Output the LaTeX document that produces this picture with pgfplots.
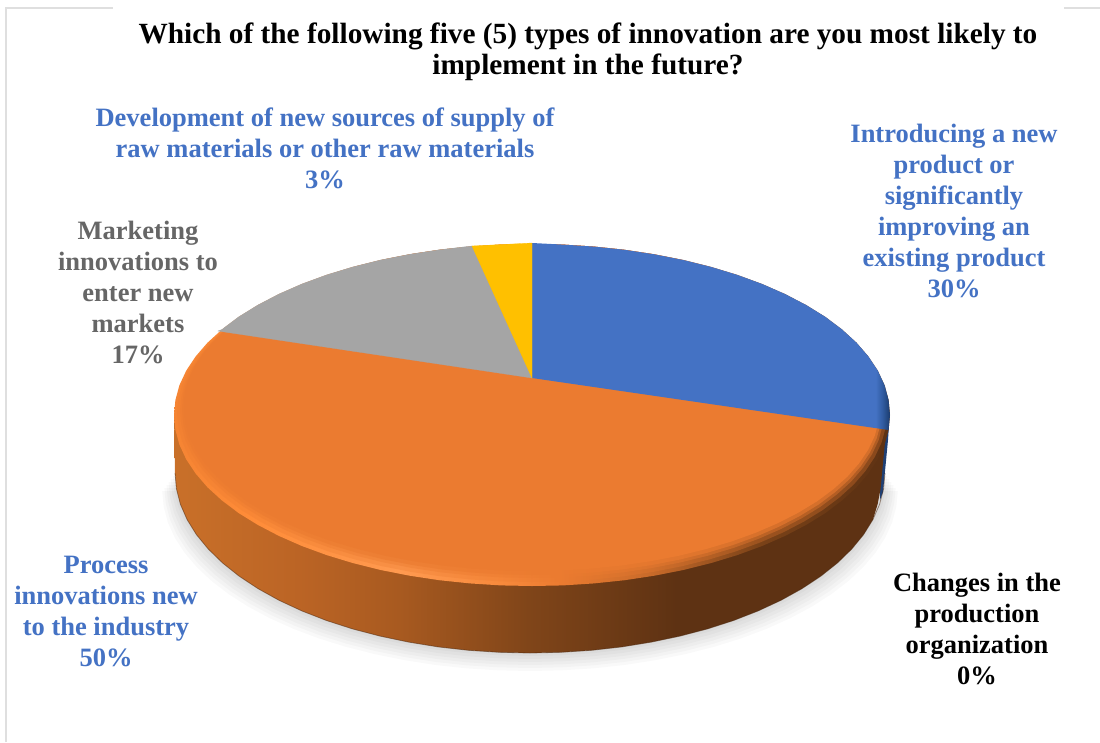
\documentclass[border=0pt]{standalone}
\usepackage{fontspec}
\setmainfont{Liberation Serif}
\usepackage{pgfplots}
\usepackage{pgfplotstable}
\pgfplotsset{compat=1.18}

\definecolor{cblue}{HTML}{4472C4}
\definecolor{corange}{HTML}{EB7B30}
\definecolor{cgray}{HTML}{A5A5A5}
\definecolor{cyellow}{HTML}{FFC000}
\definecolor{cframe}{HTML}{DFDFDF}
\definecolor{sa}{HTML}{C97029}
\definecolor{sb}{HTML}{BB6425}
\definecolor{sc}{HTML}{A85A20}
\definecolor{sd}{HTML}{804519}
\definecolor{se}{HTML}{5E3213}
\definecolor{ra}{HTML}{F58433}
\definecolor{rb}{HTML}{FF8C38}
\definecolor{rc}{HTML}{FF9A50}
\definecolor{rd}{HTML}{F88A3C}
\definecolor{re}{HTML}{C96B2A}
\definecolor{rf}{HTML}{7A4218}
\definecolor{ba}{HTML}{2F5A9E}
\definecolor{bb}{HTML}{1B3A6B}

\tikzset{lab/.style={align=center, font=\fontsize{26.5}{31}\selectfont\bfseries, inner sep=0pt}}

% the path's box runs from 25bp to 75bp
\pgfdeclarehorizontalshading{sideshade}{100bp}{color(0bp)=(sa); color(25bp)=(sa);
  color(33.8bp)=(sb); color(40.8bp)=(sc); color(49.9bp)=(sd); color(60.3bp)=(se); color(100bp)=(se)}
\pgfdeclarehorizontalshading{rimshade}{100bp}{color(0bp)=(ra); color(25bp)=(ra);
  color(30.3bp)=(rb); color(40.8bp)=(rc); color(47.8bp)=(rd); color(52bp)=(corange);
  color(58.2bp)=(re); color(65.9bp)=(rf); color(75bp)=(se); color(100bp)=(se)}
\pgfdeclarehorizontalshading{blueshade}{100bp}{color(0bp)=(cblue); color(73bp)=(cblue);
  color(74bp)=(ba); color(75bp)=(bb); color(100bp)=(bb)}

% top rim of the pie, picture pixels
\pgfplotstableread{
x y
532 244
563.2 244.6
594.2 246.6
624.7 249.8
654.4 254.3
683.3 260.0
711 266.9
737.3 274.9
762.1 284.0
785.1 294.1
806.2 305.1
825.3 316.9
842.0 329.5
856.5 342.7
868.4 356.5
877.8 370.7
884.6 385.3
888.6 400.1
890 415
888.6 429.9
884.6 444.7
877.8 459.3
868.4 473.5
856.5 487.3
842.0 500.5
825.3 513.1
806.2 524.9
785.1 535.9
762.1 546.0
737.3 555.1
711 563.1
683.3 570.0
654.4 575.7
624.7 580.2
594.2 583.4
563.2 585.4
532 586
500.8 585.4
469.8 583.4
439.3 580.2
409.6 575.7
380.7 570.0
353 563.1
326.7 555.1
301.9 546.0
278.9 535.9
257.8 524.9
238.7 513.1
222 500.5
207.5 487.3
195.6 473.5
186.2 459.3
179.4 444.7
175.4 429.9
174 415
175.4 400.1
179.4 385.3
186.2 370.7
195.6 356.5
207.5 342.7
222 329.5
238.7 316.9
257.8 305.1
278.9 294.1
301.9 284.0
326.7 274.9
353 266.9
380.7 260.0
409.6 254.3
439.3 249.8
469.8 246.6
500.8 244.6
}\rimtable

% 30% slice
\pgfplotstableread{
x y
532 378
532 243
563.2 244.6
594.2 246.6
624.7 249.8
654.4 254.3
683.3 260.0
711 266.9
737.3 274.9
762.1 284.0
785.1 294.1
806.2 305.1
825.3 316.9
842.0 329.5
856.5 342.7
868.4 356.5
877.8 370.7
884.6 385.3
888.6 400.1
890 415
888.6 430
}\bluetable

% 17% slice
\pgfplotstableread{
x y
532 378
218 331
222 329.5
238.7 316.9
257.8 305.1
278.9 294.1
301.9 284.0
326.7 274.9
353 266.9
380.7 260.0
409.6 254.3
439.3 249.8
472 246
}\graytable

% 3% slice
\pgfplotstableread{
x y
532 378
472 246
500.8 244.6
532 243
}\yellowtable

% lower edge of the side wall
\pgfplotstableread{
x y
885 473
883.6 488.7
879.6 504.3
872.9 519.6
863.6 534.6
851.7 549.1
837.4 563
820.8 576.2
801.9 588.7
781 600.3
758.2 610.9
733.6 620.5
707.5 628.9
680 636.1
651.4 642.1
621.9 646.9
591.6 650.3
561 652.3
530 653
499 652.3
468.4 650.3
438.1 646.9
408.6 642.1
380 636.1
352.5 628.9
326.4 620.5
301.8 610.9
279 600.3
258.1 588.7
239.2 576.2
222.6 563
208.3 549.1
196.4 534.6
187.1 519.6
180.4 504.3
176.4 488.7
175 473
}\walltable

\begin{document}
\begin{tikzpicture}
\begin{axis}[
    scale only axis, width=1100pt, height=742pt,
    xmin=0, xmax=1100, ymin=0, ymax=742, y dir=reverse,
    hide axis, clip=true,
]
% white page, keeps the picture's box at the full size
\addplot[fill=white, draw=none, no marks] coordinates {(0,0) (1100,0) (1100,742) (0,742)} -- cycle;

% frame remains
\addplot[cframe, line width=2pt, no marks] coordinates {(6,742) (6,8) (113,8)};
\addplot[cframe, line width=1.5pt, no marks] coordinates {(1064,8) (1100,8)};

% soft shadow
\pgfplotsinvokeforeach{18,15,12,9,6,3}{
  \addplot[fill=black, fill opacity=0.022, draw=none, no marks]
    table[x expr={530+(\thisrow{x}-530)*(1+#1*0.002)}, y expr={\thisrow{y}+#1}] {\walltable} -- cycle;
}

% side wall
\addplot[fill=bb!80!ba, draw=none, no marks] coordinates {(889,425) (888,440) (883,492) (880,500) (880,425)} -- cycle;
\addplot[shading=sideshade, draw=none, no marks] coordinates {
  (174,415) (880,415) (886,432) (882,473) (880.6,488.7) (877.6,504.3) (872.9,519.6) (863.6,534.6)
  (851.7,549.1) (837.4,563) (820.8,576.2) (801.9,588.7) (781,600.3) (758.2,610.9) (733.6,620.5)
  (707.5,628.9) (680,636.1) (651.4,642.1) (621.9,646.9) (591.6,650.3) (561,652.3) (530,653)
  (499,652.3) (468.4,650.3) (438.1,646.9) (408.6,642.1) (380,636.1) (352.5,628.9) (326.4,620.5)
  (301.8,610.9) (279,600.3) (258.1,588.7) (239.2,576.2) (222.6,563) (208.3,549.1) (196.4,534.6)
  (187.1,519.6) (180.4,504.3) (176.4,488.7) (175,473)} -- cycle;
\addplot[se!80!black, line width=0.8pt, opacity=0.5, no marks] table {\walltable};

% orange top: rim band, then the flat face in steps
\addplot[shading=rimshade, draw=none, no marks] table {\rimtable} -- cycle;
\addplot[fill=corange, fill opacity=0.3, draw=none, no marks]
  table[x expr={532+(\thisrow{x}-532)*355/358}, y expr={244+(\thisrow{y}-244)*338/342}] {\rimtable} -- cycle;
\addplot[fill=corange, fill opacity=0.4, draw=none, no marks]
  table[x expr={532+(\thisrow{x}-532)*352/358}, y expr={244+(\thisrow{y}-244)*334/342}] {\rimtable} -- cycle;
\addplot[fill=corange, fill opacity=0.6, draw=none, no marks]
  table[x expr={532+(\thisrow{x}-532)*350/358}, y expr={244+(\thisrow{y}-244)*331/342}] {\rimtable} -- cycle;
\addplot[fill=corange, draw=none, no marks]
  table[x expr={532+(\thisrow{x}-532)*348/358}, y expr={244+(\thisrow{y}-244)*327/342}] {\rimtable} -- cycle;

% the other slices lie over it
\addplot[shading=blueshade, draw=none, no marks] table {\bluetable} -- cycle;
\addplot[fill=cgray, draw=cgray, line width=0.3pt, no marks] table {\graytable} -- cycle;
\addplot[fill=cyellow, draw=cyellow, line width=0.3pt, no marks] table {\yellowtable} -- cycle;

% title and labels
\node[lab, font=\fontsize{29.3}{31}\selectfont\bfseries] at (axis cs:588,52) {Which of the following five (5) types of innovation are you most likely to\\implement in the future?};
\node[lab, text=cblue] at (axis cs:325,148) {Development of new sources of supply of\\raw materials or other raw materials\\3\%};
\node[lab, text=cblue] at (axis cs:954,211) {Introducing a new\\product or\\significantly\\improving an\\existing product\\30\%};
\node[lab, text=black!60] at (axis cs:138,292) {Marketing\\innovations to\\enter new\\markets\\17\%};
\node[lab, text=cblue] at (axis cs:106,611) {Process\\innovations new\\to the industry\\50\%};
\node[lab, text=black] at (axis cs:977,629) {Changes in the\\production\\organization\\0\%};
\end{axis}
\end{tikzpicture}
\end{document}
